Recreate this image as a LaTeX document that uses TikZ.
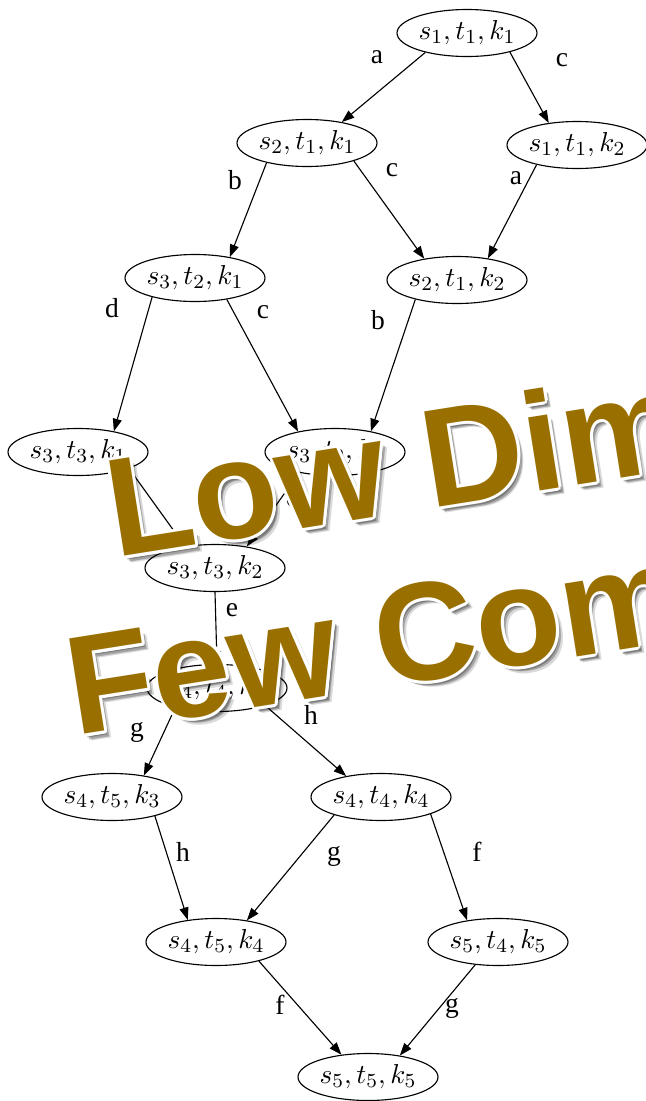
\documentclass[tikz,border=0pt]{standalone}
\usepackage{fontspec}
\setmainfont{Liberation Serif}
\newfontfamily\wmfont{Liberation Sans}
\usepackage{xcolor}
\usetikzlibrary{shapes.geometric,arrows.meta}
\definecolor{wmgold}{RGB}{153,112,0}
\tikzset{
  snode/.style={ellipse, draw, line width=0.45pt, minimum width=56pt, minimum height=18.8pt, inner sep=0pt, font=\fontsize{11}{13}\selectfont},
  sarrow/.style={-{Triangle[length=5pt,width=3.6pt]}, line width=0.45pt},
  slabel/.style={font=\fontsize{11}{13}\selectfont, inner sep=0pt},
  wmtext/.style={font=\wmfont\bfseries\fontsize{56}{60}\selectfont, rotate=9, anchor=base west, inner sep=0pt}
}
\newcommand{\stk}[3]{$s_{#1},t_{#2},k_{#3}$}

\begin{document}
\begin{tikzpicture}[x=0.4pt, y=-0.4pt]
\useasboundingbox (0,0) rectangle (646,1101);
% states
\node[snode] (s1t1k1) at (467,33) {\stk111};
\node[snode] (s2t1k1) at (307,143) {\stk211};
\node[snode] (s1t1k2) at (577,145) {\stk112};
\node[snode] (s3t2k1) at (195,278) {\stk321};
\node[snode] (s2t1k2) at (457,280) {\stk212};
\node[snode] (s3t3k1) at (78,452) {\stk331};
\node[snode] (s3t2k2) at (335,452) {\stk322};
\node[snode] (s3t3k2) at (215,568) {\stk332};
\node[snode] (s4t4k3) at (217,688) {\stk443};
\node[snode] (s4t5k3) at (112,797) {\stk453};
\node[snode] (s4t4k4) at (381,797) {\stk444};
\node[snode] (s4t5k4) at (216,942) {\stk454};
\node[snode] (s5t4k5) at (498,942) {\stk545};
\node[snode] (s5t5k5) at (368,1077) {\stk555};
% transitions
\draw[sarrow] (s1t1k1.205) -- (s2t1k1.31);
\draw[sarrow] (s1t1k1.336) -- (s1t1k2.142);
\draw[sarrow] (s2t1k1.206) -- (s3t2k1.31);
\draw[sarrow] (s2t1k1.339) -- (s2t1k2.147);
\draw[sarrow] (s1t1k2.206) -- (s2t1k2.35);
\draw[sarrow] (s3t2k1.204) -- (s3t3k1.30);
\draw[sarrow] (s3t2k1.326) -- (s3t2k2.151);
\draw[sarrow] (s2t1k2.205) -- (s3t2k2.30);
\draw[sarrow] (s3t3k1.342) -- (s3t3k2.144);
\draw[sarrow] (s3t2k2.210) -- (s3t3k2.34);
\draw[sarrow] (s3t3k2.south) -- (s4t4k3.north);
\draw[sarrow] (s4t4k3.205) -- (s4t5k3.34);
\draw[sarrow] (s4t4k3.340) -- (s4t4k4.149);
\draw[sarrow] (s4t5k3.336) -- (s4t5k4.142);
\draw[sarrow] (s4t4k4.201) -- (s4t5k4.35);
\draw[sarrow] (s4t4k4.341) -- (s5t4k5.145);
\draw[sarrow] (s4t5k4.336) -- (s5t5k5.140);
\draw[sarrow] (s5t4k5.225) -- (s5t5k5.34);
% labels
\node[slabel] (la1) at (377,57) {a};
\node[slabel] (lc1) at (562,60) {c};
\node[slabel] (lb1) at (235,180) {b};
\node[slabel] (lc2) at (392,170) {c};
\node[slabel] (la2) at (516,178) {a};
\node[slabel] (ld1) at (112,308) {d};
\node[slabel] (lc3) at (263,312) {c};
\node[slabel] (lb2) at (378,320) {b};
\node[slabel] (ld2) at (293,497) {d};
\node[slabel] (le1) at (232,610) {e};
\node[slabel] (lg1) at (137,732) {g};
\node[slabel] (lh1) at (311,715) {h};
\node[slabel] (lh2) at (183,852) {h};
\node[slabel] (lg2) at (334,856) {g};
\node[slabel] (lf1) at (477,852) {f};
\node[slabel] (lf2) at (280,1005) {f};
\node[slabel] (lg3) at (452,1008) {g};
% watermark
\foreach \sx/\sy/\op in {1.0/-1.8/0.25, 1.6/-2.4/0.25, 2.2/-3.0/0.15} {
  \node[wmtext, text=black, text opacity=\op, xshift=\sx pt, yshift=\sy pt] (lowsh) at (115,558) {Low Dim};
  \node[wmtext, text=black, text opacity=\op, xshift=\sx pt, yshift=\sy pt] (fewsh) at (75,736) {Few Com};
}
\foreach \a in {0,30,...,330} {
  \node[wmtext, text=white, xshift={1.2pt*cos(\a)}, yshift={1.2pt*sin(\a)}] (lowhalo) at (115,558) {Low Dim};
  \node[wmtext, text=white, xshift={1.2pt*cos(\a)}, yshift={1.2pt*sin(\a)}] (fewhalo) at (75,736) {Few Com};
}
\node[wmtext, text=wmgold] (lowdim) at (115,558) {Low Dim};
\node[wmtext, text=wmgold] (fewcom) at (75,736) {Few Com};
\end{tikzpicture}
\end{document}
